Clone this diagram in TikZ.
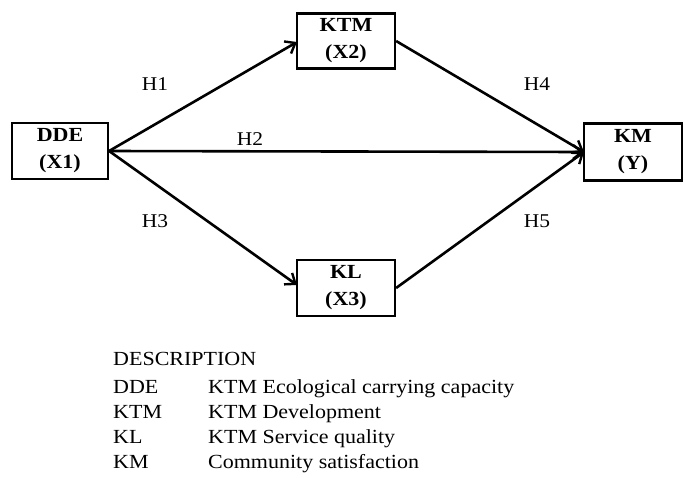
\documentclass[tikz,border=0pt]{standalone}
\usepackage{fontspec}
\setmainfont[FakeStretch=1.1]{Liberation Serif}
\usetikzlibrary{arrows.meta}
\begin{document}
\begin{tikzpicture}[x=1pt,y=-1pt,
  varbox/.style={draw,line width=2.2pt,font=\fontsize{20}{27}\selectfont\bfseries,align=center,inner sep=0pt},
  link/.style={line width=2.6pt,-{Straight Barb[length=9pt,width=14pt,line width=2.4pt]}},
  hlab/.style={font=\fontsize{19.5}{22}\selectfont},
  leg/.style={font=\fontsize{20}{22}\selectfont,anchor=base west,inner sep=0pt}]
\useasboundingbox (0,0) rectangle (685,477);
\node[varbox,minimum width=96pt,minimum height=56pt] (dde) at (60,151) {DDE\\(X1)};
\node[varbox,minimum width=98pt,minimum height=55pt] (ktm) at (346,41) {KTM\\(X2)};
\node[varbox,minimum width=98pt,minimum height=57pt] (km) at (633,152) {KM\\(Y)};
\node[varbox,minimum width=98pt,minimum height=56pt] (kl) at (346,288) {KL\\(X3)};
\coordinate (ktmin) at (297,42);
\coordinate (klin) at (297,285);
\coordinate (kmin) at (584,152);
\draw[link] (dde.east) -- (ktmin);
\draw[link] (dde.east) -- (kmin);
\draw[link] (dde.east) -- (klin);
\draw[link] (ktm.east) -- (kmin);
\draw[link] (kl.east) -- (kmin);
\node[hlab] (h1) at (155,84) {H1};
\node[hlab] (h2) at (250,139) {H2};
\node[hlab] (h3) at (155,221) {H3};
\node[hlab] (h4) at (537,84) {H4};
\node[hlab] (h5) at (537,221) {H5};
\node[leg] (desc) at (113,365) {DESCRIPTION};
\node[leg] (k1) at (113,393) {DDE};
\node[leg] (v1) at (208,393) {KTM Ecological carrying capacity};
\node[leg] (k2) at (113,418) {KTM};
\node[leg] (v2) at (208,418) {KTM Development};
\node[leg] (k3) at (113,443) {KL};
\node[leg] (v3) at (208,443) {KTM Service quality};
\node[leg] (k4) at (113,468) {KM};
\node[leg] (v4) at (208,468) {Community satisfaction};
\end{tikzpicture}
\end{document}
